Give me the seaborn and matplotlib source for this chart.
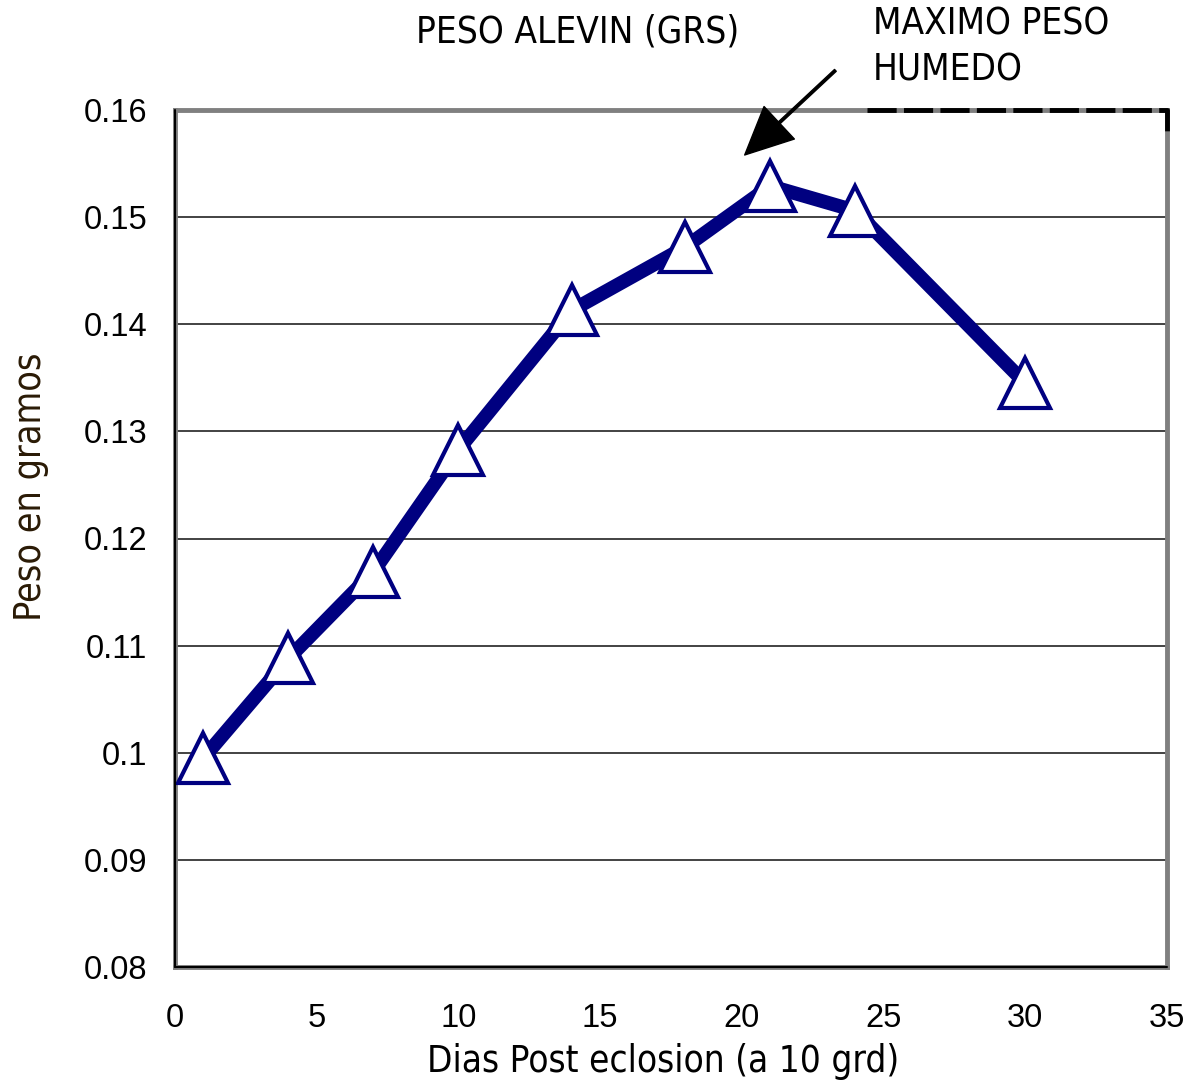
import numpy as np
import pandas as pd
import seaborn as sns
import matplotlib.pyplot as plt

# Data
dias = [1, 4, 7, 10, 14, 18, 21, 24, 30]
peso = [0.0995, 0.1088, 0.1169, 0.1283, 0.1413, 0.1472, 0.1529, 0.1506, 0.1345]
x_ticks = [0, 5, 10, 15, 20, 25, 30, 35]
y_ticks = [0.08, 0.09, 0.10, 0.11, 0.12, 0.13, 0.14, 0.15, 0.16]
y_labels = ["0.08", "0.09", "0.1", "0.11", "0.12", "0.13", "0.14", "0.15", "0.16"]

df = pd.DataFrame({"dias": dias, "peso": peso})

sns.set_style("white")
plt.rcParams["font.family"] = ["DejaVu Sans"]
plt.rcParams["text.color"] = "black"
plt.rcParams["xtick.color"] = "black"
plt.rcParams["ytick.color"] = "black"
plt.rcParams["axes.labelcolor"] = "black"

fig = plt.figure(figsize=(11.89, 10.84), dpi=100)
ax = fig.add_axes([175 / 1189, 1 - 967 / 1084, (1167 - 175) / 1189, (967 - 110) / 1084])

# horizontal gridlines
for v in y_ticks[1:-1]:
    ax.axhline(v, color="#222222", lw=1.2, zorder=1)

sns.lineplot(data=df, x="dias", y="peso", ax=ax, color="#000080", lw=10,
             marker="^", markersize=36, markerfacecolor="white",
             markeredgecolor="#000080", markeredgewidth=3, zorder=3)

ax.set_xlim(0, 35)
ax.set_ylim(0.08, 0.16)
ax.set_xticks(x_ticks)
ax.set_yticks(y_ticks)
ax.set_yticklabels(y_labels)
ax.tick_params(axis="both", direction="out", length=8, width=1.3, color="black",
               labelcolor="black")
for lab in ax.get_xticklabels() + ax.get_yticklabels():
    lab.set_family("Liberation Sans")
    lab.set_fontsize(23.5)
ax.tick_params(axis="y", pad=12)
ax.tick_params(axis="x", pad=18)

# plot area border (gray) and black axis lines
for s in ax.spines.values():
    s.set_color("#808080")
    s.set_linewidth(3.5)
ax.plot([0, 0], [0, 1], transform=ax.transAxes, color="black", lw=1.5, clip_on=False, zorder=5)
ax.plot([0, 1], [0, 0], transform=ax.transAxes, color="black", lw=1.5, clip_on=False, zorder=5)

# dashed black remnant on top-right corner
ax.plot([0.698, 1.0, 1.0], [1.0, 1.0, 0.968], transform=ax.transAxes, color="black",
        lw=3.5, dashes=(6, 1.5), clip_on=False, zorder=6)

ax.set_xlabel("Dias Post eclosion (a 10 grd)", fontsize=26.5, fontstretch="condensed")
ax.xaxis.set_label_coords((663 - 175) / 992, -(1062 - 967) / 857)
ax.set_ylabel("Peso en gramos", fontsize=27, fontstretch="condensed", color="#2a1a05")
ax.yaxis.set_label_coords(-(175 - 31) / 992, 1 - (487 - 110) / 857)
ax.xaxis.label.set_va("center")
ax.yaxis.label.set_va("center")

fig.text(578 / 1189, 1 - 32 / 1084, "PESO ALEVIN (GRS)", fontsize=26.5,
         fontstretch="condensed", ha="center", va="center")
fig.text(873 / 1189, 1 - 47 / 1084, "MAXIMO PESO\nHUMEDO", fontsize=26.5,
         fontstretch="condensed", ha="left", va="center", linespacing=1.3)

ax.annotate("", xy=(20.1, 0.1558), xytext=(23.3, 0.1637),
            arrowprops=dict(facecolor="black", edgecolor="black", width=1.8,
                            headwidth=32, headlength=34),
            annotation_clip=False)

fig.savefig("out.png", dpi=100)
